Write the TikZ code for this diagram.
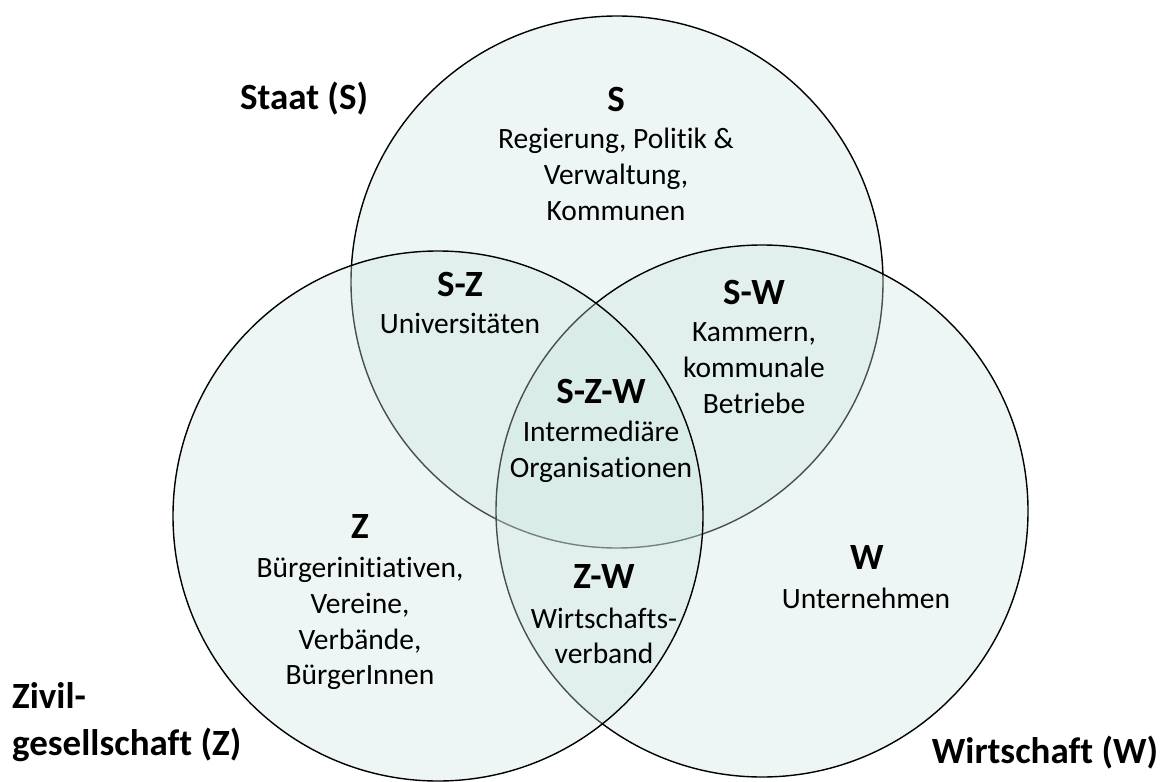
\documentclass[tikz,border=0pt]{standalone}
\usepackage{fontspec}
\setmainfont{Carlito}[Ligatures=NoCommon]
\definecolor{vennfill}{RGB}{204,229,223}
\tikzset{
  venn/.style={circle, draw=black, line width=1.4pt, fill=vennfill, fill opacity=0.35, inner sep=0pt, outer sep=0pt},
  hd/.style={font=\fontsize{37}{44}\selectfont\bfseries, anchor=base, inner sep=0pt, text=black},
  hdw/.style={hd, anchor=base west},
  bd/.style={font=\fontsize{29.5}{36}\selectfont, anchor=base, inner sep=0pt, text=black},
}
\begin{document}
\begin{tikzpicture}[x=1pt,y=-1pt]
\useasboundingbox (0,0) rectangle (1166,781);
% circles: drawn S, W, Z
\node[venn, minimum size=532pt] (cS) at (617,282) {};
\node[venn, minimum size=532pt] (cW) at (762,511) {};
\node[venn, minimum size=530pt] (cZ) at (438,516) {};
% outer titles
\node[hd] (tS) at (304,110) {Staat (S)};
\node[hdw] (tZa) at (12,708) {Zivil-};
\node[hdw] (tZb) at (12,755) {gesellschaft (Z)};
\node[hd] (tW) at (1045,763) {Wirtschaft (W)};
% S
\node[hd] (lS) at (616,111) {S};
\node[bd] (lS1) at (616,148) {Regierung, Politik \&};
\node[bd] (lS2) at (616,184) {Verwaltung,};
\node[bd] (lS3) at (616,220) {Kommunen};
% S-Z
\node[hd] (lSZ) at (460,296) {S-Z};
\node[bd] (lSZ1) at (460,333) {Universitäten};
% S-W
\node[hd] (lSW) at (754,304) {S-W};
\node[bd] (lSW1) at (754,341) {Kammern,};
\node[bd] (lSW2) at (754,377) {kommunale};
\node[bd] (lSW3) at (754,413) {Betriebe};
% S-Z-W
\node[hd] (lSZW) at (601,403) {S-Z-W};
\node[bd] (lSZW1) at (601,441) {Intermediäre};
\node[bd] (lSZW2) at (601,477) {Organisationen};
% Z
\node[hd] (lZ) at (360,538) {Z};
\node[bd] (lZ1) at (360,577) {Bürgerinitiativen,};
\node[bd] (lZ2) at (360,613) {Vereine,};
\node[bd] (lZ3) at (360,649) {Verbände,};
\node[bd] (lZ4) at (360,684) {BürgerInnen};
% Z-W
\node[hd] (lZW) at (604,588) {Z-W};
\node[bd] (lZW1) at (604,628) {Wirtschafts-};
\node[bd] (lZW2) at (604,663) {verband};
% W
\node[hd] (lW) at (867,569) {W};
\node[bd] (lW1) at (866,608) {Unternehmen};
\end{tikzpicture}
\end{document}
